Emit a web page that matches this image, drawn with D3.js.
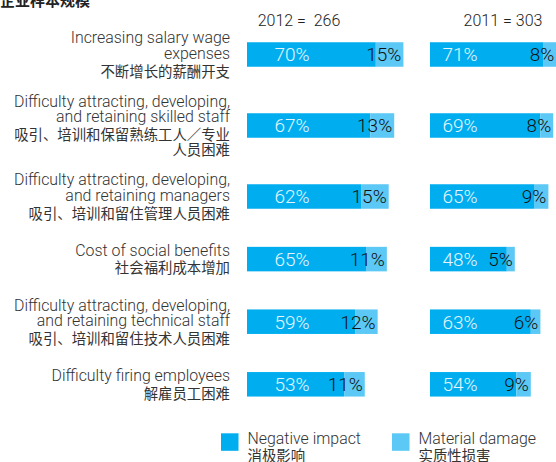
<!DOCTYPE html>
<html>
<head>
<meta charset="utf-8">
<script src="https://cdn.jsdelivr.net/npm/d3@7"></script>
<style>
  html, body { margin: 0; padding: 0; background: #fff; }
  svg { display: block; }
  .en { font-family: Roboto, "Open Sans", sans-serif; font-weight: 300; }
  .zh { font-family: "Noto Sans CJK SC", sans-serif; font-weight: 400; }
</style>
</head>
<body>
<div id="chart"></div>
<script>
// labels, english part and chinese part
const categoriesEn = [
  ['Increasing salary wage', 'expenses'],
  ['Difficulty attracting, developing,', 'and retaining skilled staff'],
  ['Difficulty attracting, developing,', 'and retaining managers'],
  ['Cost of social benefits'],
  ['Difficulty attracting, developing,', 'and retaining technical staff'],
  ['Difficulty firing employees']
];
const categoriesZh = [
  ['不断增长的薪酬开支'],
  ['吸引、培训和保留熟练工人／专业', '人员困难'],
  ['吸引、培训和留住管理人员困难'],
  ['社会福利成本增加'],
  ['吸引、培训和留住技术人员困难'],
  ['解雇员工困难']
];

const negative2012 = [70, 67, 62, 65, 59, 53];
const damage2012 = [15, 13, 15, 11, 12, 11];
const negative2011 = [71, 69, 65, 48, 63, 54];
const damage2011 = [8, 8, 9, 5, 6, 9];

const panelTitles = ['2012 =  266', '2011 = 303'];
const title = '企业样本规模';
const legendEn = ['Negative impact', 'Material damage'];
const legendZh = ['消极影响', '实质性损害'];

const width = 556, height = 462;
const darkBlue = '#00aeef', lightBlue = '#5bc8f5';
const textColor = '#333';
const barH = 24.5;

const svg = d3.select('#chart').append('svg')
  .attr('width', width)
  .attr('height', height);

// row centres depend on how many label lines each row has
const lines = categoriesEn.map((d, i) => d.length + categoriesZh[i].length);
const centers = [];
lines.forEach((n, i) => {
  if (i === 0) centers.push(54.5);
  else centers.push(centers[i - 1] + 4.2 * (lines[i - 1] + n) + 41.6);
});

// one x scale per panel
const x2012 = d3.scaleLinear().domain([0, 100]).range([247, 431]);
const x2011 = d3.scaleLinear().domain([0, 100]).range([430, 590]);

const panels = [
  {title: panelTitles[0], x: x2012, neg: negative2012, dmg: damage2012, labelOff: 45, titleX: 299},
  {title: panelTitles[1], x: x2011, neg: negative2011, dmg: damage2011, labelOff: 30, titleX: 503}
];

// title, mostly cut off at the top
svg.append('text')
  .attr('class', 'zh')
  .attr('x', 0)
  .attr('y', 6)
  .attr('font-size', 15)
  .style('font-weight', 700)
  .attr('fill', '#222')
  .text(title);

// category labels
const labels = svg.append('g').attr('class', 'labels');
categoriesEn.forEach((en, i) => {
  const zh = categoriesZh[i];
  const span = (en.length - 1) * 15.6 + 17.5 + (zh.length - 1) * 15.5;
  const first = centers[i] - span / 2 + 5.5;
  en.forEach((t, j) => {
    labels.append('text')
      .attr('class', 'en')
      .attr('x', 230)
      .attr('y', first + j * 15.6)
      .attr('text-anchor', 'end')
      .attr('font-size', 15.9)
      .attr('fill', textColor)
      .text(t);
  });
  const zhStart = first + (en.length - 1) * 15.6 + 17.5;
  zh.forEach((t, j) => {
    labels.append('text')
      .attr('class', 'zh')
      .attr('x', 230)
      .attr('y', zhStart + j * 15.5)
      .attr('text-anchor', 'end')
      .attr('font-size', 14.4)
      .attr('fill', textColor)
      .text(t);
  });
});

panels.forEach(p => {
  const g = svg.append('g');
  const rows = p.neg.map((v, i) => ({neg: v, dmg: p.dmg[i], cy: centers[i]}));

  g.append('text')
    .attr('class', 'en')
    .attr('x', p.titleX)
    .attr('y', 26)
    .attr('text-anchor', 'middle')
    .attr('font-size', 16)
    .attr('fill', '#222')
    .style('white-space', 'pre')
    .text(p.title);

  const bar = g.selectAll('.bar')
    .data(rows)
    .enter()
    .append('g')
    .attr('class', 'bar');

  bar.append('rect')
    .attr('x', p.x(0))
    .attr('y', d => d.cy - barH / 2)
    .attr('width', d => p.x(d.neg) - p.x(0))
    .attr('height', barH)
    .attr('fill', darkBlue);

  bar.append('rect')
    .attr('x', d => p.x(d.neg))
    .attr('y', d => d.cy - barH / 2)
    .attr('width', d => p.x(d.neg + d.dmg) - p.x(d.neg))
    .attr('height', barH)
    .attr('fill', lightBlue);

  bar.append('text')
    .attr('class', 'en')
    .attr('x', p.x(0) + p.labelOff)
    .attr('y', d => d.cy + 6.8)
    .attr('text-anchor', 'middle')
    .attr('font-size', 19)
    .attr('fill', '#e4f5fd')
    .text(d => d.neg + '%');

  bar.append('text')
    .attr('class', 'en')
    .attr('x', d => p.x(d.neg + d.dmg) - 2)
    .attr('y', d => d.cy + 6.8)
    .attr('text-anchor', 'end')
    .attr('font-size', 19)
    .attr('fill', '#111')
    .text(d => d.dmg + '%');
});

// legend
const legendX = [221, 392];
const legendColors = [darkBlue, lightBlue];
const legend = svg.append('g').attr('class', 'legend');
legendEn.forEach((t, i) => {
  legend.append('rect')
    .attr('x', legendX[i])
    .attr('y', 433.3)
    .attr('width', 17.5)
    .attr('height', 17.5)
    .attr('fill', legendColors[i]);
  legend.append('text')
    .attr('class', 'en')
    .attr('x', legendX[i] + 26.5)
    .attr('y', 444)
    .attr('font-size', 15.9)
    .attr('fill', textColor)
    .text(t);
  legend.append('text')
    .attr('class', 'zh')
    .attr('x', legendX[i] + 26.5)
    .attr('y', 461)
    .attr('font-size', 14.4)
    .attr('fill', textColor)
    .text(legendZh[i]);
});
</script>
</body>
</html>
